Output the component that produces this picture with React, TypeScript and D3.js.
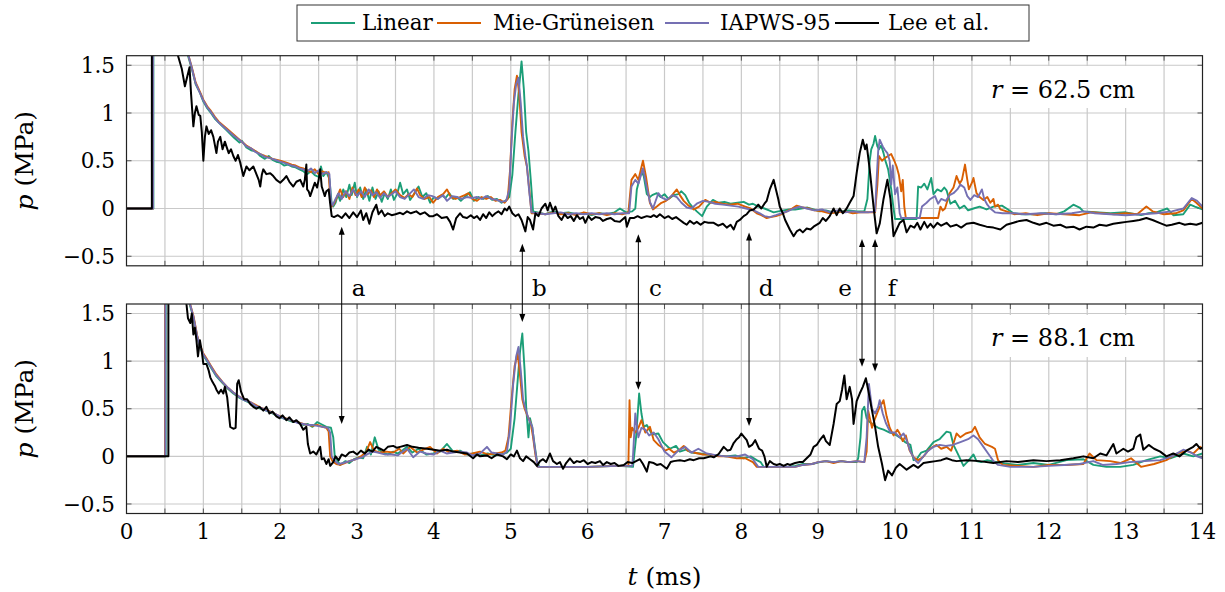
import React from "react";
import * as d3 from "d3";

type Pt = [number, number];

const SERIES_NAMES = ["Linear", "Mie-Grüneisen", "IAPWS-95", "Lee et al."];
const SERIES_COLORS = ["#1b9e77", "#d95f02", "#7570b3", "#000000"];
const X_TICKS = [0, 1, 2, 3, 4, 5, 6, 7, 8, 9, 10, 11, 12, 13, 14];
const X_GRID = d3.range(0.5, 14, 0.5);
const Y_TICKS = [-0.5, 0, 0.5, 1, 1.5];
const Y_TICK_LABELS = ["\u22120.5", "0", "0.5", "1", "1.5"];
const PANEL_RADII = ["62.5", "88.1"];

const ANNOT_LABELS = ["a", "b", "c", "d", "e", "f"];
const ANNOT_TIMES = [2.8, 5.15, 6.66, 8.1, 9.57, 9.74];
const ANNOT_TOP_P = [-0.19, -0.37, -0.27, -0.25, -0.32, -0.32];
const ANNOT_BOT_P = [0.34, 1.41, 0.7, 0.32, 0.94, 0.89];
const ANNOT_SIDE = [1, 1, 1, 1, -1, 1];

// ---------------- r = 62.5 cm ----------------
const LINEAR_TOP: Pt[] = [
  [0, 0], [0.35, 0], [0.35, 3], [0.7, 1.9], [0.8, 1.6], [0.85, 1.46], [0.9, 1.3], [0.956, 1.21], [1.0, 1.12], [1.05, 1.05],
  [1.09, 1.01], [1.15, 0.94], [1.2, 0.9], [1.3, 0.82], [1.4, 0.74], [1.47, 0.69], [1.5, 0.71], [1.56, 0.64], [1.62, 0.61], [1.68, 0.6],
  [1.74, 0.55], [1.8, 0.52], [1.85, 0.55], [1.9, 0.51], [1.95, 0.49], [2.0, 0.48], [2.05, 0.45], [2.1, 0.46], [2.15, 0.44], [2.2, 0.43],
  [2.25, 0.41], [2.3, 0.39], [2.35, 0.36], [2.4, 0.39], [2.45, 0.35], [2.5, 0.33], [2.53, 0.44], [2.56, 0.34], [2.6, 0.38], [2.64, 0.31],
  [2.67, 0.05], [2.69, 0.02], [2.72, 0.06], [2.75, 0.15], [2.78, 0.08], [2.82, 0.2], [2.86, 0.12], [2.9, 0.25], [2.93, 0.14], [2.97, 0.27],
  [3.0, 0.12], [3.04, 0.22], [3.08, 0.1], [3.12, 0.2], [3.16, 0.08], [3.2, 0.22], [3.24, 0.1], [3.28, 0.18], [3.32, 0.07], [3.36, 0.16],
  [3.4, 0.1], [3.44, 0.2], [3.48, 0.09], [3.52, 0.15], [3.56, 0.27], [3.6, 0.15], [3.65, 0.2], [3.69, 0.09], [3.74, 0.15], [3.8, 0.23],
  [3.85, 0.12], [3.9, 0.16], [3.95, 0.06], [4.0, 0.12], [4.05, 0.1], [4.1, 0.14], [4.15, 0.11], [4.2, 0.16], [4.25, 0.1], [4.3, 0.12],
  [4.35, 0.08], [4.4, 0.12], [4.47, 0.17], [4.52, 0.08], [4.58, 0.12], [4.64, 0.1], [4.7, 0.13], [4.76, 0.09], [4.82, 0.1], [4.88, 0.06],
  [4.93, 0.08], [4.98, 0.12], [5.02, 0.35], [5.06, 0.8], [5.1, 1.2], [5.14, 1.54], [5.17, 1.25], [5.2, 0.8], [5.23, 0.6], [5.26, 0.3],
  [5.29, -0.03], [5.35, -0.04], [5.45, -0.06], [5.55, -0.03], [5.65, -0.05], [5.75, -0.04], [5.85, -0.06], [5.95, -0.05], [6.05, -0.07], [6.15, -0.05],
  [6.25, -0.06], [6.35, -0.04], [6.42, 0.0], [6.5, -0.04], [6.58, -0.03], [6.62, 0.0], [6.64, 0.2], [6.7, 0.39], [6.73, 0.34], [6.77, 0.15],
  [6.81, 0.12], [6.84, 0.14], [6.9, 0.16], [6.95, 0.12], [7.0, 0.15], [7.05, 0.1], [7.12, 0.14], [7.18, 0.15], [7.22, 0.18], [7.27, 0.14],
  [7.32, 0.06], [7.36, 0.02], [7.42, -0.03], [7.49, -0.08], [7.55, 0.02], [7.63, 0.09], [7.7, 0.06], [7.78, 0.07], [7.86, 0.05], [7.95, 0.06],
  [8.03, 0.07], [8.1, 0.04], [8.15, 0.05], [8.22, 0.02], [8.3, 0.0], [8.36, -0.02], [8.42, -0.04], [8.48, -0.03], [8.55, -0.02], [8.62, -0.01],
  [8.7, -0.01], [8.78, 0.0], [8.86, 0.01], [8.94, -0.01], [9.02, -0.03], [9.1, -0.02], [9.2, -0.04], [9.3, -0.03], [9.4, -0.02], [9.5, -0.03],
  [9.6, -0.03], [9.64, 0.1], [9.67, 0.5], [9.69, 0.62], [9.72, 0.68], [9.74, 0.76], [9.77, 0.65], [9.79, 0.62], [9.82, 0.66], [9.85, 0.58],
  [9.87, 0.51], [9.91, 0.41], [9.95, 0.2], [9.98, 0.0], [10.0, -0.11], [10.28, -0.11], [10.3, 0.23], [10.34, 0.22], [10.38, 0.26], [10.42, 0.2],
  [10.47, 0.32], [10.5, 0.15], [10.55, 0.2], [10.6, 0.18], [10.64, 0.22], [10.67, 0.19], [10.72, 0.05], [10.78, 0.08], [10.84, 0.0], [10.9, 0.03],
  [10.95, -0.02], [11.02, 0.0], [11.1, 0.02], [11.19, -0.01], [11.28, 0.02], [11.39, 0.03], [11.45, 0.0], [11.54, -0.05], [11.65, -0.06], [11.8, -0.06],
  [11.95, -0.05], [12.1, -0.06], [12.2, -0.03], [12.32, 0.04], [12.4, 0.01], [12.45, -0.03], [12.6, -0.04], [12.8, -0.05], [13.0, -0.04], [13.2, -0.07],
  [13.3, -0.05], [13.4, -0.04], [13.54, 0.0], [13.62, -0.07], [13.75, -0.06], [13.84, 0.04], [13.9, 0.02], [14.0, -0.01],
];

const MG_TOP: Pt[] = [
  [0, 0], [0.345, 0], [0.345, 3], [0.7, 1.9], [0.8, 1.62], [0.85, 1.48], [0.9, 1.32], [0.956, 1.22], [1.0, 1.14], [1.05, 1.07],
  [1.09, 1.03], [1.15, 0.96], [1.2, 0.91], [1.3, 0.84], [1.4, 0.77], [1.5, 0.7], [1.56, 0.66], [1.62, 0.63], [1.68, 0.6], [1.74, 0.57],
  [1.8, 0.55], [1.9, 0.52], [2.0, 0.5], [2.08, 0.48], [2.15, 0.46], [2.2, 0.45], [2.25, 0.43], [2.3, 0.42], [2.35, 0.4], [2.4, 0.38],
  [2.45, 0.41], [2.5, 0.36], [2.55, 0.39], [2.6, 0.37], [2.63, 0.38], [2.65, 0.1], [2.67, 0.02], [2.7, 0.05], [2.74, 0.12], [2.78, 0.2],
  [2.82, 0.12], [2.86, 0.18], [2.9, 0.1], [2.94, 0.22], [2.98, 0.14], [3.02, 0.2], [3.06, 0.12], [3.1, 0.22], [3.14, 0.15], [3.18, 0.19],
  [3.22, 0.12], [3.26, 0.2], [3.3, 0.14], [3.35, 0.18], [3.4, 0.12], [3.45, 0.16], [3.5, 0.2], [3.56, 0.14], [3.62, 0.11], [3.67, 0.15],
  [3.72, 0.12], [3.78, 0.21], [3.82, 0.14], [3.88, 0.1], [3.94, 0.12], [3.99, 0.06], [4.05, 0.12], [4.12, 0.15], [4.17, 0.2], [4.22, 0.12],
  [4.28, 0.1], [4.34, 0.12], [4.4, 0.14], [4.45, 0.16], [4.5, 0.1], [4.56, 0.08], [4.62, 0.12], [4.68, 0.1], [4.74, 0.12], [4.8, 0.08],
  [4.86, 0.09], [4.92, 0.06], [4.96, 0.1], [4.99, 0.4], [5.02, 0.9], [5.05, 1.25], [5.08, 1.39], [5.11, 1.2], [5.14, 0.8], [5.18, 0.55],
  [5.21, 0.44], [5.24, 0.2], [5.27, -0.05], [5.35, -0.05], [5.45, -0.06], [5.55, -0.04], [5.65, -0.06], [5.75, -0.05], [5.85, -0.07], [5.95, -0.04],
  [6.05, -0.06], [6.15, -0.05], [6.25, -0.07], [6.35, -0.05], [6.45, -0.06], [6.53, -0.04], [6.57, 0.3], [6.62, 0.36], [6.66, 0.3], [6.69, 0.4],
  [6.72, 0.5], [6.76, 0.33], [6.81, 0.06], [6.85, -0.01], [6.9, 0.02], [6.96, 0.06], [7.02, 0.08], [7.07, 0.11], [7.12, 0.16], [7.16, 0.2],
  [7.2, 0.14], [7.25, 0.08], [7.3, 0.04], [7.38, -0.01], [7.45, 0.02], [7.53, 0.09], [7.6, 0.06], [7.66, 0.07], [7.75, 0.05], [7.85, 0.04],
  [7.95, 0.05], [8.05, 0.02], [8.12, 0.0], [8.2, -0.05], [8.26, -0.07], [8.33, -0.1], [8.38, -0.09], [8.45, -0.08], [8.52, -0.06], [8.59, -0.03],
  [8.66, 0.0], [8.72, 0.03], [8.8, 0.01], [8.88, 0.0], [8.95, -0.02], [9.05, -0.03], [9.15, -0.05], [9.25, -0.04], [9.35, -0.03], [9.45, -0.05],
  [9.55, -0.04], [9.65, -0.04], [9.74, -0.04], [9.77, 0.25], [9.79, 0.55], [9.83, 0.5], [9.87, 0.53], [9.91, 0.55], [9.95, 0.57], [9.99, 0.5],
  [10.02, 0.44], [10.05, 0.35], [10.08, 0.18], [10.1, 0.3], [10.12, 0.02], [10.14, -0.1], [10.56, -0.1], [10.59, 0.02], [10.62, -0.02], [10.65, 0.0],
  [10.71, 0.16], [10.76, 0.22], [10.8, 0.34], [10.84, 0.26], [10.87, 0.3], [10.91, 0.46], [10.94, 0.3], [10.96, 0.2], [11.0, 0.27], [11.02, 0.32],
  [11.06, 0.16], [11.1, 0.12], [11.15, 0.09], [11.2, 0.12], [11.24, 0.06], [11.28, 0.1], [11.3, 0.02], [11.34, 0.04], [11.37, -0.01], [11.45, -0.03],
  [11.55, -0.06], [11.7, -0.05], [11.85, -0.07], [12.0, -0.05], [12.2, -0.06], [12.4, -0.07], [12.55, -0.04], [12.7, -0.05], [12.85, -0.06], [13.0, -0.05],
  [13.15, -0.06], [13.27, 0.02], [13.35, -0.03], [13.5, -0.06], [13.65, -0.05], [13.75, -0.02], [13.86, 0.1], [13.92, 0.06], [14.0, 0.0],
];

const IAPWS_TOP: Pt[] = [
  [0, 0], [0.345, 0], [0.345, 3], [0.7, 1.9], [0.8, 1.62], [0.85, 1.47], [0.9, 1.31], [0.956, 1.21], [1.0, 1.13], [1.05, 1.06],
  [1.09, 1.02], [1.15, 0.95], [1.2, 0.9], [1.3, 0.83], [1.4, 0.76], [1.5, 0.7], [1.56, 0.65], [1.62, 0.63], [1.68, 0.59], [1.74, 0.57],
  [1.8, 0.54], [1.9, 0.52], [2.0, 0.49], [2.08, 0.47], [2.15, 0.45], [2.2, 0.44], [2.25, 0.42], [2.3, 0.41], [2.35, 0.39], [2.4, 0.42],
  [2.45, 0.37], [2.5, 0.4], [2.55, 0.36], [2.6, 0.38], [2.64, 0.36], [2.66, 0.08], [2.68, 0.03], [2.72, 0.1], [2.76, 0.16], [2.8, 0.1],
  [2.85, 0.18], [2.9, 0.13], [2.95, 0.2], [3.0, 0.13], [3.05, 0.18], [3.1, 0.12], [3.15, 0.2], [3.2, 0.14], [3.25, 0.17], [3.3, 0.11],
  [3.35, 0.16], [3.4, 0.12], [3.45, 0.15], [3.5, 0.18], [3.56, 0.12], [3.62, 0.1], [3.68, 0.15], [3.74, 0.2], [3.8, 0.12], [3.86, 0.1],
  [3.92, 0.14], [3.98, 0.13], [4.05, 0.1], [4.12, 0.14], [4.17, 0.08], [4.24, 0.13], [4.3, 0.12], [4.36, 0.1], [4.43, 0.12], [4.5, 0.11],
  [4.56, 0.12], [4.62, 0.1], [4.68, 0.13], [4.75, 0.1], [4.82, 0.09], [4.88, 0.07], [4.94, 0.08], [4.98, 0.2], [5.01, 0.7], [5.04, 1.1],
  [5.07, 1.3], [5.1, 1.37], [5.13, 1.1], [5.16, 0.75], [5.19, 0.55], [5.21, 0.44], [5.24, 0.18], [5.27, -0.04], [5.35, -0.05], [5.45, -0.06],
  [5.55, -0.05], [5.65, -0.04], [5.75, -0.06], [5.85, -0.05], [5.95, -0.06], [6.05, -0.05], [6.15, -0.06], [6.25, -0.05], [6.35, -0.06], [6.45, -0.05],
  [6.54, -0.05], [6.57, 0.23], [6.62, 0.3], [6.66, 0.26], [6.72, 0.42], [6.76, 0.26], [6.81, 0.07], [6.85, 0.0], [6.92, 0.16], [6.97, 0.11],
  [7.03, 0.09], [7.1, 0.14], [7.16, 0.12], [7.22, 0.06], [7.29, 0.01], [7.35, 0.0], [7.42, 0.05], [7.5, 0.08], [7.58, 0.07], [7.66, 0.05],
  [7.76, 0.04], [7.86, 0.03], [7.96, 0.02], [8.06, 0.0], [8.16, -0.02], [8.24, -0.05], [8.3, -0.08], [8.37, -0.09], [8.45, -0.07], [8.52, -0.05],
  [8.6, -0.03], [8.68, 0.0], [8.76, 0.02], [8.85, 0.0], [8.95, -0.02], [9.05, -0.01], [9.15, -0.04], [9.25, -0.02], [9.35, -0.04], [9.45, -0.03],
  [9.55, -0.04], [9.65, -0.04], [9.74, -0.03], [9.76, 0.3], [9.78, 0.6], [9.8, 0.72], [9.84, 0.65], [9.87, 0.61], [9.9, 0.58], [9.93, 0.5],
  [9.95, 0.25], [9.97, 0.45], [10.0, 0.15], [10.03, 0.22], [10.06, -0.05], [10.08, -0.1], [10.32, -0.1], [10.35, 0.02], [10.41, 0.06], [10.46, 0.1],
  [10.52, 0.13], [10.56, 0.05], [10.6, 0.1], [10.66, 0.08], [10.71, 0.14], [10.76, 0.16], [10.81, 0.2], [10.85, 0.25], [10.9, 0.22], [10.94, 0.13],
  [10.98, 0.09], [11.03, 0.14], [11.08, 0.12], [11.13, 0.2], [11.16, 0.1], [11.2, 0.04], [11.24, 0.0], [11.3, -0.04], [11.4, -0.05], [11.55, -0.05],
  [11.7, -0.06], [11.9, -0.05], [12.1, -0.06], [12.3, -0.05], [12.45, -0.03], [12.6, -0.05], [12.8, -0.06], [13.0, -0.07], [13.2, -0.06], [13.4, -0.05],
  [13.6, -0.03], [13.75, 0.0], [13.86, 0.11], [13.93, 0.08], [14.0, 0.02],
];

const LEE_TOP: Pt[] = [
  [0, 0], [0.33, 0], [0.33, 3], [0.6, 2.0], [0.67, 1.6], [0.72, 1.46], [0.76, 1.28], [0.79, 1.38], [0.82, 1.48], [0.84, 1.2],
  [0.87, 0.86], [0.89, 1.0], [0.91, 1.07], [0.94, 0.98], [0.96, 0.97], [0.98, 0.8], [1.0, 0.5], [1.02, 0.75], [1.04, 0.86], [1.07, 0.78],
  [1.1, 0.82], [1.13, 0.75], [1.17, 0.58], [1.19, 0.7], [1.22, 0.75], [1.25, 0.62], [1.28, 0.7], [1.3, 0.65], [1.33, 0.58], [1.36, 0.62],
  [1.39, 0.55], [1.42, 0.5], [1.45, 0.56], [1.48, 0.48], [1.52, 0.34], [1.56, 0.44], [1.6, 0.4], [1.65, 0.44], [1.69, 0.36], [1.72, 0.3],
  [1.74, 0.23], [1.76, 0.35], [1.78, 0.41], [1.82, 0.36], [1.87, 0.37], [1.91, 0.34], [1.95, 0.3], [2.0, 0.27], [2.04, 0.3], [2.08, 0.34],
  [2.12, 0.28], [2.17, 0.23], [2.21, 0.28], [2.26, 0.3], [2.3, 0.23], [2.32, 0.3], [2.34, 0.46], [2.35, 0.2], [2.37, 0.18], [2.39, 0.13],
  [2.42, 0.2], [2.45, 0.27], [2.48, 0.22], [2.5, 0.3], [2.52, 0.41], [2.54, 0.23], [2.56, 0.18], [2.58, 0.13], [2.6, 0.18], [2.63, 0.2],
  [2.65, 0.05], [2.67, -0.08], [2.7, -0.09], [2.75, -0.07], [2.8, -0.1], [2.85, -0.05], [2.9, -0.1], [2.95, -0.04], [3.0, -0.09], [3.05, -0.02],
  [3.08, -0.12], [3.12, -0.05], [3.16, -0.16], [3.2, -0.04], [3.25, 0.04], [3.28, -0.06], [3.32, -0.02], [3.36, -0.08], [3.4, -0.05], [3.45, -0.07],
  [3.5, -0.06], [3.56, -0.045], [3.6, -0.06], [3.65, -0.03], [3.7, -0.05], [3.77, -0.03], [3.82, -0.06], [3.88, -0.04], [3.94, -0.08], [3.99, -0.08],
  [4.04, -0.06], [4.1, -0.1], [4.17, -0.09], [4.21, -0.14], [4.25, -0.22], [4.29, -0.1], [4.34, -0.05], [4.38, -0.09], [4.43, -0.1], [4.48, -0.07],
  [4.52, -0.1], [4.56, -0.08], [4.6, -0.12], [4.64, -0.06], [4.68, -0.1], [4.72, -0.04], [4.76, -0.08], [4.8, -0.05], [4.84, -0.03], [4.88, -0.06],
  [4.92, 0.0], [4.95, -0.02], [4.98, 0.02], [5.02, -0.05], [5.06, -0.08], [5.1, -0.06], [5.14, -0.12], [5.19, -0.24], [5.22, -0.09], [5.25, -0.12],
  [5.29, -0.22], [5.32, -0.05], [5.36, -0.08], [5.4, 0.0], [5.45, 0.05], [5.48, -0.02], [5.51, 0.06], [5.55, -0.03], [5.58, 0.02], [5.62, -0.08],
  [5.66, -0.12], [5.7, -0.06], [5.74, -0.1], [5.78, -0.08], [5.82, -0.13], [5.86, -0.07], [5.9, -0.11], [5.94, -0.09], [5.97, -0.15], [6.01, -0.08],
  [6.05, -0.12], [6.1, -0.09], [6.16, -0.1], [6.2, -0.13], [6.25, -0.11], [6.3, -0.1], [6.35, -0.13], [6.42, -0.14], [6.49, -0.09], [6.51, -0.19],
  [6.55, -0.1], [6.6, -0.1], [6.65, -0.08], [6.7, -0.1], [6.77, -0.08], [6.82, -0.09], [6.86, -0.07], [6.9, -0.09], [6.94, -0.06], [7.0, -0.1],
  [7.05, -0.08], [7.1, -0.11], [7.15, -0.09], [7.2, -0.12], [7.25, -0.15], [7.29, -0.17], [7.33, -0.13], [7.38, -0.16], [7.42, -0.14], [7.47, -0.17],
  [7.52, -0.14], [7.57, -0.15], [7.64, -0.15], [7.7, -0.18], [7.76, -0.16], [7.81, -0.2], [7.86, -0.17], [7.9, -0.22], [7.94, -0.14], [7.98, -0.12],
  [8.03, -0.08], [8.07, -0.06], [8.11, -0.02], [8.16, -0.01], [8.2, 0.02], [8.22, 0.04], [8.26, 0.0], [8.3, 0.05], [8.33, 0.08], [8.37, 0.2],
  [8.42, 0.3], [8.45, 0.2], [8.48, 0.1], [8.5, 0.02], [8.54, -0.05], [8.57, -0.12], [8.63, -0.22], [8.68, -0.29], [8.72, -0.24], [8.76, -0.22],
  [8.8, -0.25], [8.85, -0.21], [8.9, -0.22], [8.94, -0.19], [9.02, -0.15], [9.06, -0.1], [9.1, -0.13], [9.15, -0.08], [9.2, 0.0], [9.24, -0.07],
  [9.28, 0.0], [9.32, -0.05], [9.37, 0.0], [9.41, 0.06], [9.46, 0.13], [9.5, 0.37], [9.54, 0.58], [9.58, 0.72], [9.61, 0.62], [9.63, 0.67],
  [9.67, 0.41], [9.72, 0.02], [9.76, -0.26], [9.8, -0.16], [9.85, 0.1], [9.9, 0.3], [9.94, 0.1], [9.98, -0.29], [10.02, -0.22], [10.06, -0.15],
  [10.11, -0.12], [10.15, -0.25], [10.2, -0.18], [10.25, -0.2], [10.29, -0.15], [10.33, -0.22], [10.38, -0.14], [10.42, -0.2], [10.46, -0.16], [10.5, -0.2],
  [10.55, -0.15], [10.6, -0.18], [10.67, -0.15], [10.72, -0.19], [10.8, -0.17], [10.86, -0.2], [10.93, -0.16], [11.02, -0.15], [11.1, -0.17], [11.19, -0.19],
  [11.28, -0.2], [11.37, -0.22], [11.45, -0.17], [11.54, -0.15], [11.62, -0.13], [11.71, -0.12], [11.8, -0.15], [11.88, -0.17], [11.97, -0.15], [12.06, -0.18],
  [12.15, -0.17], [12.23, -0.2], [12.32, -0.19], [12.4, -0.22], [12.49, -0.19], [12.58, -0.2], [12.66, -0.17], [12.75, -0.18], [12.84, -0.16], [12.93, -0.15],
  [13.01, -0.14], [13.1, -0.13], [13.18, -0.12], [13.27, -0.1], [13.35, -0.12], [13.44, -0.15], [13.53, -0.18], [13.6, -0.17], [13.7, -0.15], [13.77, -0.17],
  [13.84, -0.16], [13.92, -0.17], [14.0, -0.15],
];

// ---------------- r = 88.1 cm ----------------
const LINEAR_BOT: Pt[] = [
  [0, 0], [0.51, 0], [0.51, 3], [0.7, 2.0], [0.82, 1.6], [0.87, 1.46], [0.92, 1.25], [0.955, 1.15], [1.0, 1.06], [1.04, 1.01],
  [1.1, 0.93], [1.17, 0.84], [1.25, 0.77], [1.32, 0.71], [1.39, 0.66], [1.46, 0.62], [1.53, 0.59], [1.61, 0.56], [1.68, 0.52], [1.75, 0.5],
  [1.82, 0.48], [1.9, 0.45], [1.97, 0.42], [2.04, 0.4], [2.1, 0.38], [2.17, 0.36], [2.23, 0.36], [2.3, 0.33], [2.36, 0.34], [2.42, 0.31],
  [2.48, 0.36], [2.53, 0.34], [2.6, 0.31], [2.66, 0.3], [2.69, 0.2], [2.71, 0.0], [2.75, -0.05], [2.78, -0.09], [2.85, -0.05], [2.9, -0.07],
  [2.96, -0.03], [3.02, -0.01], [3.08, -0.02], [3.13, 0.1], [3.18, 0.02], [3.23, 0.2], [3.28, 0.07], [3.34, 0.04], [3.4, 0.02], [3.47, 0.05],
  [3.53, 0.03], [3.6, 0.07], [3.65, 0.1], [3.72, 0.04], [3.8, 0.08], [3.9, 0.02], [3.99, 0.03], [4.08, 0.05], [4.17, 0.13], [4.25, 0.05],
  [4.34, 0.06], [4.43, 0.02], [4.52, 0.03], [4.6, 0.01], [4.7, 0.03], [4.8, 0.01], [4.88, 0.02], [4.95, 0.04], [5.0, 0.08], [5.05, 0.4],
  [5.09, 0.8], [5.12, 1.1], [5.15, 1.29], [5.18, 0.9], [5.2, 0.52], [5.23, 0.2], [5.25, 0.4], [5.28, 0.3], [5.31, 0.12], [5.34, -0.05],
  [5.37, -0.11], [5.6, -0.11], [6.0, -0.11], [6.4, -0.1], [6.59, -0.11], [6.63, 0.2], [6.67, 0.66], [6.7, 0.45], [6.73, 0.31], [6.77, 0.33],
  [6.84, 0.23], [6.92, 0.24], [6.98, 0.15], [7.07, 0.08], [7.15, 0.11], [7.2, 0.05], [7.28, 0.07], [7.35, 0.04], [7.46, 0.03], [7.55, 0.02],
  [7.68, 0.01], [7.8, 0.0], [7.92, 0.01], [8.03, -0.02], [8.12, 0.0], [8.2, -0.04], [8.25, -0.06], [8.29, -0.11], [8.6, -0.11], [8.7, -0.1],
  [8.8, -0.08], [8.92, -0.08], [9.02, -0.06], [9.1, -0.05], [9.2, -0.06], [9.3, -0.05], [9.4, -0.06], [9.5, -0.06], [9.52, -0.02], [9.55, 0.2],
  [9.57, 0.48], [9.6, 0.52], [9.63, 0.4], [9.67, 0.36], [9.72, 0.33], [9.78, 0.3], [9.85, 0.28], [9.93, 0.25], [9.98, 0.24], [10.06, 0.2],
  [10.13, 0.15], [10.2, 0.12], [10.24, -0.04], [10.28, -0.03], [10.34, 0.04], [10.41, 0.06], [10.5, 0.15], [10.58, 0.18], [10.67, 0.26], [10.72, 0.25],
  [10.76, 0.12], [10.82, 0.02], [10.89, -0.1], [10.95, -0.05], [11.02, 0.02], [11.06, -0.05], [11.12, -0.06], [11.2, -0.04], [11.37, -0.07], [11.59, -0.09],
  [11.8, -0.07], [12.0, -0.09], [12.23, -0.04], [12.45, -0.03], [12.58, -0.09], [12.75, -0.11], [12.93, -0.11], [13.1, -0.09], [13.27, -0.04], [13.45, 0.0],
  [13.58, -0.02], [13.75, 0.03], [13.88, 0.0], [14.0, 0.03],
];

const MG_BOT: Pt[] = [
  [0, 0], [0.5, 0], [0.5, 3], [0.7, 2.0], [0.82, 1.62], [0.87, 1.48], [0.92, 1.27], [0.955, 1.17], [1.0, 1.08], [1.04, 1.03],
  [1.1, 0.95], [1.17, 0.86], [1.25, 0.78], [1.32, 0.72], [1.39, 0.67], [1.46, 0.63], [1.53, 0.6], [1.61, 0.57], [1.68, 0.54], [1.75, 0.51],
  [1.82, 0.49], [1.9, 0.46], [1.97, 0.43], [2.04, 0.41], [2.1, 0.39], [2.17, 0.37], [2.23, 0.36], [2.3, 0.34], [2.36, 0.33], [2.42, 0.32],
  [2.48, 0.33], [2.55, 0.31], [2.6, 0.3], [2.63, 0.26], [2.65, 0.0], [2.68, -0.05], [2.73, -0.08], [2.78, -0.09], [2.84, -0.07], [2.9, -0.05],
  [2.98, -0.03], [3.05, 0.0], [3.12, 0.05], [3.17, 0.15], [3.22, 0.06], [3.3, 0.04], [3.38, 0.05], [3.47, 0.04], [3.55, 0.08], [3.6, 0.03],
  [3.69, 0.1], [3.78, 0.04], [3.86, 0.07], [3.95, 0.1], [4.04, 0.03], [4.12, 0.08], [4.2, 0.04], [4.3, 0.06], [4.4, 0.02], [4.5, 0.03],
  [4.6, 0.05], [4.7, 0.02], [4.8, 0.03], [4.88, 0.04], [4.93, 0.06], [4.97, 0.2], [5.01, 0.6], [5.05, 0.95], [5.09, 1.08], [5.12, 0.85],
  [5.15, 0.6], [5.18, 0.5], [5.22, 0.42], [5.26, 0.35], [5.29, 0.2], [5.32, 0.02], [5.35, -0.11], [6.0, -0.11], [6.4, -0.1], [6.53, -0.1],
  [6.545, 0.59], [6.56, 0.2], [6.58, 0.3], [6.62, 0.25], [6.66, 0.3], [6.7, 0.38], [6.75, 0.25], [6.81, 0.31], [6.86, 0.17], [6.92, 0.12],
  [6.96, 0.1], [7.01, 0.06], [7.06, 0.08], [7.12, 0.04], [7.18, 0.06], [7.25, 0.11], [7.3, 0.06], [7.38, 0.04], [7.5, 0.02], [7.6, 0.02],
  [7.7, 0.0], [7.8, 0.0], [7.94, -0.02], [8.05, -0.02], [8.15, -0.06], [8.2, -0.11], [8.7, -0.11], [8.8, -0.09], [8.92, -0.08], [9.0, -0.06],
  [9.1, -0.05], [9.2, -0.07], [9.3, -0.05], [9.4, -0.06], [9.5, -0.05], [9.6, -0.06], [9.63, 0.05], [9.65, 0.48], [9.7, 0.3], [9.74, 0.4],
  [9.79, 0.5], [9.85, 0.59], [9.89, 0.42], [9.93, 0.3], [9.98, 0.22], [10.03, 0.28], [10.06, 0.24], [10.1, 0.16], [10.14, 0.22], [10.19, 0.06],
  [10.24, -0.01], [10.3, -0.04], [10.36, -0.01], [10.45, 0.08], [10.54, 0.12], [10.6, 0.08], [10.67, 0.1], [10.73, 0.06], [10.8, 0.24], [10.85, 0.2],
  [10.92, 0.24], [11.0, 0.26], [11.04, 0.31], [11.1, 0.2], [11.17, 0.13], [11.26, 0.1], [11.3, 0.08], [11.34, -0.04], [11.4, -0.09], [11.6, -0.1],
  [11.8, -0.11], [12.0, -0.09], [12.23, -0.09], [12.45, -0.08], [12.53, 0.03], [12.62, -0.04], [12.8, -0.05], [12.93, -0.07], [13.07, -0.02], [13.2, -0.11],
  [13.37, -0.08], [13.53, -0.04], [13.67, 0.03], [13.8, 0.06], [13.88, 0.03], [13.97, 0.1], [14.0, 0.08],
];

const IAPWS_BOT: Pt[] = [
  [0, 0], [0.505, 0], [0.505, 3], [0.7, 2.0], [0.82, 1.62], [0.87, 1.47], [0.92, 1.26], [0.955, 1.16], [1.0, 1.07], [1.04, 1.02],
  [1.1, 0.94], [1.17, 0.85], [1.25, 0.78], [1.32, 0.72], [1.39, 0.67], [1.46, 0.63], [1.53, 0.59], [1.61, 0.57], [1.68, 0.53], [1.75, 0.51],
  [1.82, 0.48], [1.9, 0.46], [1.97, 0.43], [2.04, 0.4], [2.1, 0.39], [2.17, 0.37], [2.23, 0.35], [2.3, 0.34], [2.36, 0.33], [2.42, 0.33],
  [2.48, 0.32], [2.55, 0.31], [2.62, 0.3], [2.65, 0.25], [2.67, 0.0], [2.7, -0.04], [2.76, -0.08], [2.82, -0.07], [2.9, -0.05], [2.98, -0.03],
  [3.06, -0.01], [3.13, 0.02], [3.2, 0.05], [3.27, 0.04], [3.36, 0.02], [3.45, 0.02], [3.53, 0.01], [3.56, 0.03], [3.65, 0.08], [3.73, -0.01],
  [3.82, 0.05], [3.9, 0.03], [4.0, 0.02], [4.08, 0.06], [4.17, 0.03], [4.25, 0.04], [4.34, 0.05], [4.43, 0.04], [4.5, 0.01], [4.6, 0.03],
  [4.69, 0.1], [4.75, 0.04], [4.82, 0.03], [4.9, 0.02], [4.95, 0.05], [4.99, 0.3], [5.03, 0.75], [5.07, 1.05], [5.1, 1.15], [5.13, 0.9],
  [5.16, 0.6], [5.19, 0.5], [5.23, 0.4], [5.28, 0.31], [5.31, 0.1], [5.35, -0.11], [6.0, -0.11], [6.4, -0.1], [6.58, -0.1], [6.59, 0.0],
  [6.62, 0.45], [6.66, 0.2], [6.7, 0.3], [6.75, 0.28], [6.8, 0.22], [6.86, 0.25], [6.92, 0.18], [7.0, 0.05], [7.09, -0.01], [7.18, 0.06],
  [7.27, 0.1], [7.35, 0.04], [7.44, 0.08], [7.55, 0.03], [7.68, 0.01], [7.8, 0.0], [7.94, 0.0], [8.05, 0.02], [8.15, -0.03], [8.22, -0.11],
  [8.7, -0.11], [8.8, -0.09], [8.92, -0.08], [9.0, -0.06], [9.1, -0.05], [9.2, -0.06], [9.3, -0.05], [9.4, -0.06], [9.5, -0.05], [9.6, -0.06],
  [9.63, 0.2], [9.66, 0.76], [9.7, 0.5], [9.74, 0.45], [9.78, 0.52], [9.8, 0.59], [9.84, 0.45], [9.88, 0.35], [9.94, 0.25], [10.0, 0.25],
  [10.06, 0.2], [10.11, 0.24], [10.15, 0.17], [10.2, 0.05], [10.26, -0.04], [10.3, -0.07], [10.35, -0.02], [10.42, 0.05], [10.5, 0.1], [10.58, 0.12],
  [10.66, 0.11], [10.75, 0.12], [10.85, 0.15], [10.95, 0.18], [11.02, 0.22], [11.08, 0.18], [11.15, 0.1], [11.22, 0.02], [11.28, -0.05], [11.34, -0.09],
  [11.5, -0.11], [11.8, -0.11], [12.0, -0.1], [12.2, -0.09], [12.4, -0.08], [12.58, -0.05], [12.7, -0.09], [12.88, -0.08], [13.05, -0.06], [13.25, -0.05],
  [13.45, -0.04], [13.6, 0.0], [13.75, 0.07], [13.85, 0.04], [13.93, 0.0], [14.0, -0.02],
];

const LEE_BOT: Pt[] = [
  [0, 0], [0.545, 0], [0.545, 3], [0.7, 2.0], [0.78, 1.6], [0.8, 1.45], [0.83, 1.4], [0.85, 1.5], [0.87, 1.28], [0.89, 1.35],
  [0.91, 1.22], [0.93, 1.05], [0.955, 1.22], [0.98, 1.1], [1.0, 0.97], [1.04, 0.97], [1.07, 0.9], [1.09, 0.83], [1.12, 0.78], [1.15, 0.74],
  [1.17, 0.7], [1.2, 0.66], [1.23, 0.7], [1.26, 0.66], [1.28, 0.73], [1.31, 0.62], [1.35, 0.31], [1.39, 0.29], [1.42, 0.3], [1.44, 0.76],
  [1.46, 0.8], [1.49, 0.68], [1.53, 0.6], [1.57, 0.6], [1.61, 0.55], [1.65, 0.52], [1.69, 0.5], [1.73, 0.52], [1.78, 0.48], [1.82, 0.52],
  [1.86, 0.45], [1.9, 0.47], [1.95, 0.42], [1.99, 0.4], [2.03, 0.43], [2.08, 0.38], [2.12, 0.41], [2.17, 0.36], [2.21, 0.38], [2.26, 0.34],
  [2.3, 0.28], [2.34, 0.31], [2.36, 0.13], [2.39, 0.03], [2.43, 0.05], [2.47, 0.02], [2.52, 0.1], [2.54, -0.03], [2.57, -0.02], [2.6, -0.08],
  [2.63, -0.03], [2.65, -0.1], [2.69, -0.06], [2.72, 0.0], [2.76, -0.04], [2.8, 0.02], [2.85, 0.0], [2.9, 0.04], [2.95, 0.05], [3.0, 0.02],
  [3.05, 0.06], [3.1, 0.03], [3.15, 0.07], [3.2, 0.05], [3.25, 0.1], [3.3, 0.08], [3.35, 0.06], [3.4, 0.1], [3.47, 0.11], [3.52, 0.09],
  [3.56, 0.1], [3.65, 0.12], [3.72, 0.1], [3.8, 0.09], [3.91, 0.08], [4.0, 0.07], [4.08, 0.06], [4.17, 0.07], [4.25, 0.05], [4.34, 0.04],
  [4.43, 0.03], [4.51, -0.02], [4.56, 0.02], [4.6, 0.0], [4.69, 0.01], [4.75, -0.02], [4.82, 0.02], [4.9, 0.0], [4.95, -0.03], [5.0, 0.02],
  [5.04, 0.0], [5.08, 0.06], [5.12, -0.02], [5.16, -0.05], [5.2, 0.0], [5.25, -0.03], [5.3, -0.06], [5.34, -0.1], [5.38, -0.05], [5.42, -0.03],
  [5.46, -0.06], [5.51, 0.03], [5.55, -0.05], [5.6, -0.08], [5.64, -0.06], [5.68, -0.13], [5.72, -0.07], [5.77, -0.02], [5.82, -0.07], [5.86, -0.05],
  [5.9, -0.06], [5.95, -0.04], [6.0, -0.08], [6.05, -0.06], [6.1, -0.07], [6.16, -0.05], [6.2, -0.09], [6.25, -0.06], [6.3, -0.08], [6.35, -0.07],
  [6.4, -0.1], [6.47, -0.09], [6.52, -0.06], [6.58, -0.07], [6.63, -0.05], [6.68, -0.03], [6.72, -0.08], [6.77, -0.16], [6.8, -0.06], [6.86, -0.07],
  [6.9, -0.09], [6.95, -0.08], [7.03, -0.13], [7.08, -0.06], [7.12, -0.05], [7.2, -0.04], [7.26, -0.05], [7.33, -0.03], [7.38, -0.04], [7.45, -0.02],
  [7.51, -0.02], [7.6, 0.0], [7.64, -0.01], [7.7, 0.02], [7.77, 0.1], [7.82, 0.06], [7.86, 0.07], [7.9, 0.14], [7.94, 0.18], [7.97, 0.2],
  [8.0, 0.24], [8.04, 0.2], [8.07, 0.17], [8.1, 0.1], [8.14, 0.12], [8.18, 0.17], [8.23, 0.08], [8.27, 0.06], [8.3, 0.0], [8.33, -0.11],
  [8.37, -0.05], [8.42, -0.08], [8.46, -0.09], [8.5, -0.08], [8.55, -0.1], [8.6, -0.08], [8.63, -0.09], [8.7, -0.07], [8.76, -0.06], [8.8, -0.06],
  [8.85, -0.02], [8.9, 0.02], [8.94, 0.1], [8.98, 0.12], [9.02, 0.17], [9.07, 0.22], [9.1, 0.16], [9.15, 0.12], [9.2, 0.34], [9.24, 0.55],
  [9.28, 0.58], [9.31, 0.7], [9.34, 0.85], [9.37, 0.6], [9.41, 0.73], [9.44, 0.6], [9.46, 0.34], [9.5, 0.58], [9.54, 0.66], [9.58, 0.73],
  [9.62, 0.82], [9.65, 0.7], [9.7, 0.48], [9.74, 0.31], [9.78, 0.1], [9.83, -0.08], [9.87, -0.25], [9.91, -0.15], [9.96, -0.2], [10.01, -0.12],
  [10.06, -0.08], [10.15, -0.14], [10.24, -0.09], [10.3, -0.12], [10.37, -0.07], [10.45, -0.06], [10.53, -0.05], [10.6, -0.04], [10.67, -0.02], [10.74, -0.04],
  [10.8, -0.05], [10.93, -0.04], [11.1, -0.05], [11.28, -0.07], [11.45, -0.05], [11.6, -0.06], [11.8, -0.04], [11.97, -0.05], [12.15, -0.04], [12.32, -0.02],
  [12.45, 0.0], [12.58, -0.02], [12.67, 0.03], [12.75, 0.01], [12.84, 0.13], [12.88, 0.03], [12.97, 0.08], [13.03, 0.05], [13.1, 0.08], [13.14, 0.2],
  [13.19, 0.23], [13.23, 0.07], [13.3, 0.12], [13.37, 0.08], [13.45, 0.05], [13.53, 0.0], [13.62, 0.03], [13.7, 0.0], [13.79, 0.06], [13.88, 0.1],
  [13.92, 0.13], [13.97, 0.08], [14.0, 0.09],
];

const TOP_SERIES = [LINEAR_TOP, MG_TOP, IAPWS_TOP, LEE_TOP];
const BOT_SERIES = [LINEAR_BOT, MG_BOT, IAPWS_BOT, LEE_BOT];

const FONT = "'DejaVu Serif', serif";

export default function App() {
  const x = d3.scaleLinear().domain([0, 14]).range([126.5, 1202.5]);
  const panels = [
    { top: 55.7, bottom: 265.8, series: TOP_SERIES, radius: PANEL_RADII[0], labelY: 98, boxY: 66, showX: false },
    { top: 304, bottom: 513.5, series: BOT_SERIES, radius: PANEL_RADII[1], labelY: 346, boxY: 315, showX: true },
  ];
  const yScales = panels.map((p) => d3.scaleLinear().domain([-0.6, 1.6]).range([p.bottom, p.top]));
  const [x0, x1] = x.range();

  const legendX = [311, 437, 665, 835];
  const legendTextX = [362, 493, 720, 888];

  return (
    <svg width={1225} height={592} style={{ position: "absolute", left: 0, top: 0, background: "#fff" }} fontFamily={FONT}>
      <rect x={0} y={0} width={1225} height={592} fill="#fff" />
      <defs>
        {panels.map((p, i) => (
          <clipPath id={`clip${i}`} key={i}>
            <rect x={x0} y={p.top} width={x1 - x0} height={p.bottom - p.top} />
          </clipPath>
        ))}
      </defs>
      {panels.map((p, pi) => {
        const y = yScales[pi];
        const line = d3.line<Pt>().x((d) => x(d[0])).y((d) => y(d[1]));
        return (
          <g key={pi}>
            {X_GRID.map((t) => (
              <line key={`gx${t}`} x1={x(t)} x2={x(t)} y1={p.top} y2={p.bottom} stroke="#c9c9c9" strokeWidth={1.2} />
            ))}
            {Y_TICKS.map((v) => (
              <line key={`gy${v}`} x1={x0} x2={x1} y1={y(v)} y2={y(v)} stroke="#c9c9c9" strokeWidth={1.2} />
            ))}
            {X_GRID.map((t) => (
              <g key={`tx${t}`}>
                <line x1={x(t)} x2={x(t)} y1={p.bottom} y2={p.bottom - 5} stroke="#555" strokeWidth={1} />
                <line x1={x(t)} x2={x(t)} y1={p.top} y2={p.top + 5} stroke="#555" strokeWidth={1} />
              </g>
            ))}
            {Y_TICKS.map((v) => (
              <g key={`ty${v}`}>
                <line x1={x0} x2={x0 + 5} y1={y(v)} y2={y(v)} stroke="#555" strokeWidth={1} />
                <line x1={x1} x2={x1 - 5} y1={y(v)} y2={y(v)} stroke="#555" strokeWidth={1} />
              </g>
            ))}
            <rect x={985} y={p.boxY} width={160} height={42} fill="#fff" />
            <text x={991} y={p.labelY} fontSize={24} fill="#000">
              <tspan fontStyle="italic">r</tspan>
              <tspan> = {p.radius} cm</tspan>
            </text>
            <g clipPath={`url(#clip${pi})`}>
              {p.series.map((s, si) => (
                <path key={si} d={line(s) || ""} fill="none" stroke={SERIES_COLORS[si]} strokeWidth={si === 3 ? 2 : 1.9} strokeLinejoin="round" />
              ))}
            </g>
            <rect x={x0} y={p.top} width={x1 - x0} height={p.bottom - p.top} fill="none" stroke="#222" strokeWidth={1.2} />
            {Y_TICKS.map((v, i) => (
              <text key={`yl${v}`} x={115} y={y(v)} dy="0.36em" textAnchor="end" fontSize={21.5} fill="#000">
                {Y_TICK_LABELS[i]}
              </text>
            ))}
            <text transform={`translate(33,${(p.top + p.bottom) / 2}) rotate(-90)`} textAnchor="middle" fontSize={25} fill="#000">
              <tspan fontStyle="italic">p</tspan>
              <tspan> (MPa)</tspan>
            </text>
            {p.showX &&
              X_TICKS.map((t) => (
                <text key={`xl${t}`} x={x(t)} y={539} textAnchor="middle" fontSize={21.5} fill="#000">
                  {t}
                </text>
              ))}
          </g>
        );
      })}
      <text x={x(7)} y={585} textAnchor="middle" fontSize={25} fill="#000">
        <tspan fontStyle="italic">t</tspan>
        <tspan> (ms)</tspan>
      </text>
      {ANNOT_LABELS.map((lab, i) => {
        const ax = x(ANNOT_TIMES[i]);
        const yt = yScales[0](ANNOT_TOP_P[i]);
        const yb = yScales[1](ANNOT_BOT_P[i]);
        return (
          <g key={lab}>
            <line x1={ax} x2={ax} y1={yt + 6} y2={yb - 6} stroke="#000" strokeWidth={1} />
            <path d={`M${ax},${yt} L${ax - 3},${yt + 8} L${ax + 3},${yt + 8} Z`} fill="#000" />
            <path d={`M${ax},${yb} L${ax - 3},${yb - 8} L${ax + 3},${yb - 8} Z`} fill="#000" />
            <text x={ax + ANNOT_SIDE[i] * 17} y={296} textAnchor="middle" fontSize={23} fill="#000">
              {lab}
            </text>
          </g>
        );
      })}
      <rect x={297} y={5} width={732} height={36} fill="#fff" stroke="#333" strokeWidth={1} />
      {SERIES_NAMES.map((n, i) => (
        <g key={n}>
          <line x1={legendX[i]} x2={legendX[i] + 44} y1={23} y2={23} stroke={SERIES_COLORS[i]} strokeWidth={1.9} />
          <text x={legendTextX[i]} y={30} fontSize={21.5} fill="#000">
            {n}
          </text>
        </g>
      ))}
    </svg>
  );
}
